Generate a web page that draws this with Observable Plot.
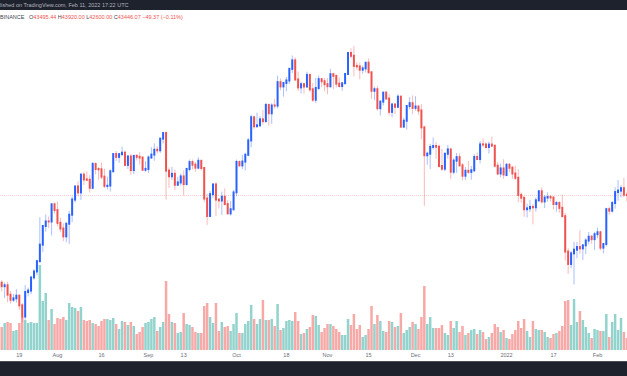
<!DOCTYPE html>
<html><head><meta charset="utf-8">
<script src="https://cdn.jsdelivr.net/npm/d3@7"></script>
<script src="https://cdn.jsdelivr.net/npm/@observablehq/plot@0.6"></script>
<style>
body{margin:0;width:627px;height:376px;overflow:hidden;position:relative;background:#fff;font-family:"Liberation Sans",Arial,sans-serif}
#topbar{position:absolute;left:0;top:0;width:627px;height:10px;background:#1e222d;color:#b2b5be;font-size:5.5px;line-height:10px;white-space:nowrap}
#legend{position:absolute;left:0;top:13px;font-size:5.5px;line-height:8px;white-space:nowrap;color:#434651}
#legend .v{color:#ef5350}
#botbar{position:absolute;left:0;top:361px;width:627px;height:15px;background:#1e222d;border-top:1px solid #4a4e5a;box-sizing:border-box}
.layer{position:absolute;left:0;top:0}
</style></head>
<body>
<div id="topbar">lished on TradingView.com, Feb 11, 2022 17:22 UTC</div>
<div id="legend">BINANCE&nbsp;&nbsp; O<span class="v">43495.44</span> H<span class="v">43920.00</span> L<span class="v">42600.00</span> C<span class="v">43446.07</span> <span class="v">−49.37 (−0.11%)</span></div>
<div id="vol" class="layer"></div>
<div id="px" class="layer"></div>
<div id="botbar"></div>
<script>
const firstDay = "2021-07-13";
const open = [
33086,32730,32820,31874,31383,31520,31778,30839,29790,32144,32287,33634,34262,35381,37237,39457,40019,40016,42207,
41461,39850,39146,38208,39744,40865,42832,44614,43795,46280,45601,45554,44429,47834,47098,47056,45993,44687,44742,46764,49340,48905,49322,49546,47707,48953,46942,49064,48903,48807,46991,
47110,48811,49246,49999,49918,51756,52667,46868,46048,46396,44851,45171,46026,44950,47103,48121,47738,47300,48314,47249,42970,40709,43564,44893,42839,42717,43208,42236,41035,41564,
43820,48141,47634,48200,49224,51471,55315,53785,53955,54949,54659,57471,55996,57370,57347,61672,60875,61528,62005,64281,66002,62193,60689,61286,60852,63078,60328,58413,60575,62253,61859,
61300,60911,63220,62896,61396,60941,61470,63273,67526,66947,64882,64775,64122,64380,65519,63606,60059,60345,56891,58057,59707,58617,56247,57541,57138,58960,53723,54716,57275,57776,
56951,57184,56485,53601,49152,49397,50441,50588,50471,47535,47141,49389,50053,46702,48336,48864,47632,46134,46835,46681,46914,48887,48588,50838,50820,50429,50810,50640,47588,46444,47178,
46216,47722,47286,46446,45832,43451,43082,41566,41680,41864,41822,42735,43949,42592,43099,43177,43113,42250,42375,41745,40680,36445,35071,36244,36660,36958,36810,37160,37716,38166,37881,
38466,38694,36896,37311,41571,41382,42380,43839,44043,44373,43495];
const high = [
33340,33114,33185,32250,31955,32435,31899,31063,32858,32591,33650,34500,35398,40550,39542,40900,40640,42316,42448,
42599,40459,39780,39969,41350,43271,44700,45310,46454,46700,46744,46218,48144,48070,47372,48053,47160,46000,47033,49382,49821,49500,50500,49875,49229,49347,49169,49309,49630,48906,48250,
49125,50392,51000,50558,51900,52780,52920,47340,47399,47031,45968,46461,46876,47250,48500,48500,48150,48843,48370,47351,43638,44000,44978,45200,42971,43919,44350,42787,42636,44141,
48495,48336,49228,49536,51886,55750,55332,56100,55489,56561,57839,57680,57777,58532,62933,62378,61718,62695,64486,67000,66639,63733,61747,61500,63710,63293,61496,62499,62980,62490,62405,
62437,64270,63500,63086,62595,61560,63286,67789,68530,69000,65600,65500,64916,65550,66401,63617,60840,60977,58320,59846,60029,59444,57875,57735,59398,59150,55280,57445,58865,59176,
59053,57375,57600,53859,49699,50936,51936,51200,50797,50125,49485,50724,50205,48700,49500,49436,47995,47392,48300,47537,49328,49576,51375,51810,51156,51280,52088,50704,48119,47900,48548,
47954,47990,47570,47557,47070,43816,43145,42300,42786,42248,43100,44135,44500,43448,43800,43476,43175,42664,42599,43505,41100,36835,36499,37550,37545,38920,37234,38000,38720,38359,38744,
39265,38855,37387,41772,41913,42656,44500,45492,44799,45821,43920];
const low = [
32202,31550,31133,31020,31164,31108,30408,29278,29482,31708,31925,33401,33852,35205,36383,38772,39200,38313,41000,
39422,38690,37642,37508,37332,39932,42450,43261,42779,44800,45351,43770,44242,46307,45525,45660,44376,44203,43927,46646,48285,48005,49029,47600,47123,46250,46364,48370,47762,46853,46700,
46513,48630,48316,49400,49500,50969,42843,44412,45514,44132,44818,44743,43370,44750,46764,47020,46700,47050,46850,42500,39600,40565,43069,40675,41646,40829,42098,40931,40753,41410,
43283,47430,47088,46891,49022,50382,53357,53617,53661,54080,54415,53879,54167,56818,56850,60150,58963,60000,61322,63481,62000,60000,59562,59510,60650,59817,58000,57820,60174,60723,59945,
59405,60624,60382,60677,60721,60050,61322,63273,66382,62822,64100,62250,63303,63576,63400,58575,58373,56474,55600,57353,58487,55610,55317,55837,57000,53500,53610,53256,56667,55875,
56458,55777,51680,42000,47727,47100,50039,48600,47320,46852,46751,48638,45673,46290,46547,47511,45456,45500,46406,45558,46630,48421,47920,50384,50142,49412,50449,47313,46201,45900,45678,
46208,46654,45696,45500,42500,42430,40610,40501,41200,39650,41268,42528,42311,41725,42555,42578,41540,41250,41138,40553,35440,34008,34601,32917,35701,36193,35507,36155,37268,37351,36633,
38000,36586,36250,37026,40843,41116,41645,42666,43117,43174,42600];
const close = [
32730,32820,31880,31383,31520,31778,30839,29790,32144,32287,33634,34258,35381,37237,39457,40019,40016,42207,41461,
39846,39147,38207,39723,40862,42836,44614,43792,46284,45596,45554,44429,47834,47107,47055,45993,44696,44706,46760,49339,48905,49322,49546,47706,48960,46942,49058,48903,48807,46991,47110,
48810,49246,49999,49915,51756,52663,46863,46048,46395,44851,45171,46025,44940,47111,48122,47737,47300,48314,47249,42970,40708,43563,44896,42839,42716,43208,42235,41034,41564,43790,
48141,47634,48200,49224,51471,55315,53785,53951,54949,54659,57471,55996,57367,57347,61672,60875,61528,62009,64280,66001,62193,60688,61286,60852,63078,60328,58413,60575,62253,61859,61299,
60911,63219,62896,61395,60937,61470,63273,67525,66947,64882,64774,64122,64380,65519,63606,60058,60345,56892,58052,59707,58623,56247,57541,57138,58960,53726,54721,57274,57776,56951,
57184,56480,53601,49152,49396,50441,50588,50471,47545,47141,49389,50053,46702,48343,48864,47632,46131,46834,46681,46914,48889,48588,50838,50821,50429,50809,50640,47588,46444,47178,46306,
47722,47286,46446,45832,43451,43082,41566,41680,41864,41822,42735,43949,42591,43099,43177,43113,42250,42375,41744,40680,36445,35071,36244,36660,36958,36809,37160,37716,38166,37881,38466,
38694,36896,37311,41574,41382,42380,43839,44042,44372,43495,43446];
// volume (thousand BTC)
const volume = [
23,27,28,27,19,20,27,33,30,27,28,27,27,85,49,57,30,41,26,32,31,33,30,47,43,42,39,43,30,29,30,27,26,24,29,31,
31,30,32,26,21,29,28,25,28,24,16,18,23,27,28,31,33,19,23,28,69,36,28,27,17,18,37,26,25,23,18,17,17,44,47,33,
27,47,19,28,23,24,19,26,37,17,17,26,29,45,31,26,31,50,30,30,31,24,46,20,22,29,30,29,38,29,16,17,21,23,35,
34,25,18,22,26,26,24,21,18,15,15,31,25,36,21,25,13,15,21,44,26,35,29,19,18,29,28,23,24,37,17,20,23,28,26,21,
33,64,26,33,22,22,22,25,17,15,29,22,29,18,24,15,17,20,21,16,20,18,11,13,17,26,23,18,20,12,11,16,20,29,22,
31,19,13,29,21,20,20,18,13,12,16,17,19,24,49,50,25,51,28,39,30,23,17,12,21,20,19,19,36,13,28,36,20,32,18,12];
const tickDates = ["2021-07-19","2021-08-01","2021-08-16","2021-09-01","2021-09-13","2021-10-01","2021-10-18","2021-11-01","2021-11-15","2021-12-01","2021-12-13","2022-01-01","2022-01-17","2022-02-01"];
const tickLabels = ["19","Aug","16","Sep","13","Oct","18","Nov","15","Dec","13","2022","17","Feb"];

const UP = "#2962ff", DOWN = "#ef5350", VUP = "#93d3cd", VDOWN = "#f7a9a7";
const start = new Date(firstDay);
const dates = open.map((_, i) => d3.utcDay.offset(start, i));
const data = dates.map((date, i) => ({date, open: open[i], high: high[i], low: low[i], close: close[i], volume: volume[i]}));
const xDomain = [d3.utcMinute.offset(dates[0], -589), d3.utcMinute.offset(dates[dates.length - 1], 317)];
const tickMap = new Map(tickDates.map((d, i) => [+new Date(d), tickLabels[i]]));

const W = 627, H = 376;
const common = {width: W, height: H, marginLeft: 0, marginRight: 0, marginTop: 10, marginBottom: 26};

const volPlot = Plot.plot({
  ...common,
  style: "background:transparent;",
  x: {type: "utc", domain: xDomain, axis: null},
  y: {domain: [0, 340], axis: null},
  marks: [
    Plot.ruleX(data, {x: "date", y1: 0, y2: "volume", stroke: d => d.close >= d.open ? VUP : VDOWN, strokeWidth: 2.5})
  ]
});
document.getElementById("vol").appendChild(volPlot);

const pxPlot = Plot.plot({
  ...common,
  style: "background:transparent;font-size:5.5px;color:#6a6d78;font-family:'Liberation Sans',Arial,sans-serif;",
  x: {type: "utc", domain: xDomain, ticks: tickDates.map(d => new Date(d)), tickFormat: d => tickMap.get(+d), tickSize: 0, tickPadding: 3, label: null},
  y: {type: "log", domain: [26846, 77174], axis: null},
  marks: [
    Plot.ruleY([close[close.length - 1]], {stroke: DOWN, strokeOpacity: 0.28, strokeDasharray: "1,1"}),
    Plot.ruleX(data, {x: "date", y1: "low", y2: "high", stroke: d => d.close >= d.open ? UP : DOWN, strokeOpacity: 0.4, strokeWidth: 1}),
    Plot.ruleX(data, {x: "date", y1: "open", y2: "close", stroke: d => d.close >= d.open ? UP : DOWN, strokeWidth: 2, strokeLinecap: "square"})
  ]
});
document.getElementById("px").appendChild(pxPlot);
</script>
</body></html>
